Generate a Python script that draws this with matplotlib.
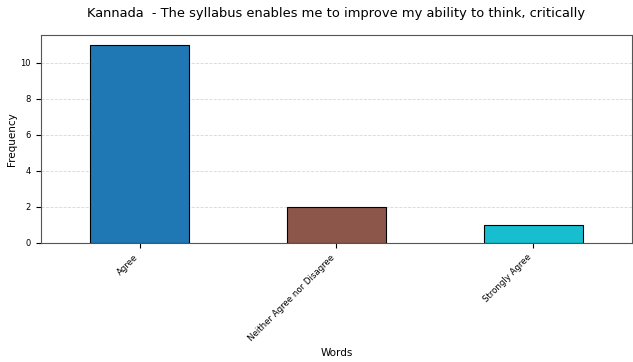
import numpy as np
import matplotlib.pyplot as plt

categories = ['Agree', 'Neither Agree nor Disagree', 'Strongly Agree']
counts = [11, 2, 1]
colors = ['#1f77b4', '#8c564b', '#17becf']

fig = plt.figure(figsize=(6.33, 3.62), dpi=100)
ax = fig.add_axes([0.065, 0.329, 0.933, 0.574])

x = np.arange(len(categories))
ax.bar(x, counts, width=0.5, color=colors, edgecolor='black', linewidth=0.8)
ax.set_xlim(-0.5, 2.5)
ax.set_xticks(x)
ax.set_xticklabels(categories, rotation=45, ha='right', fontsize=6.2)
ax.set_yticks([0, 2, 4, 6, 8, 10])
ax.tick_params(axis='y', labelsize=6, pad=4)
ax.yaxis.grid(True, linestyle='--', alpha=0.5, linewidth=0.6)
ax.set_axisbelow(True)
ax.set_xlabel('Words', fontsize=7.5)
ax.set_ylabel('Frequency', fontsize=7.5, labelpad=2)
ax.set_title('Kannada  - The syllabus enables me to improve my ability to think, critically', fontsize=9.4, pad=13)
for s in ax.spines.values():
    s.set_color('#555555')

fig.savefig('out.png', dpi=100)
